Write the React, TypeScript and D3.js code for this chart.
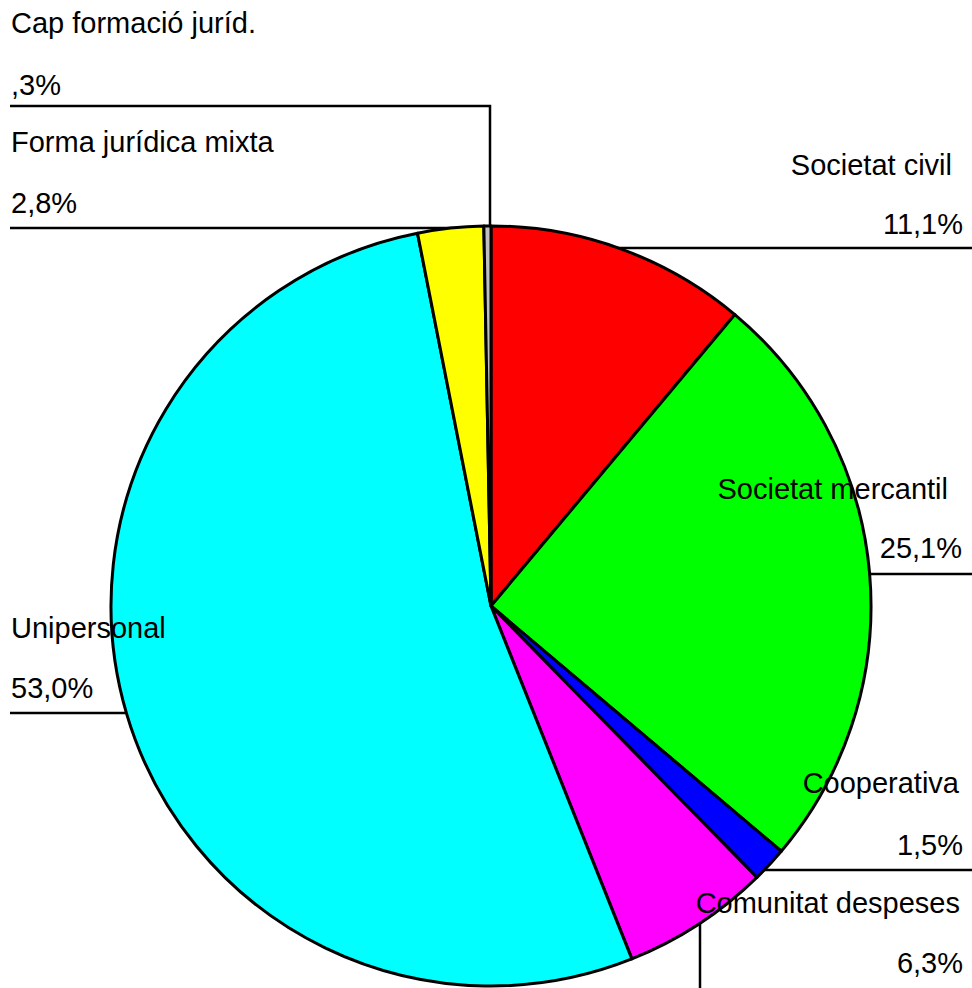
import React from "react";
import * as d3 from "d3";

const categories = [
  "Societat civil",
  "Societat mercantil",
  "Cooperativa",
  "Comunitat despeses",
  "Unipersonal",
  "Forma jurídica mixta",
  "Cap formació juríd.",
];
const values = [11.1, 25.1, 1.5, 6.3, 53.0, 2.8, 0.3];
const valueLabels = ["11,1%", "25,1%", "1,5%", "6,3%", "53,0%", "2,8%", ",3%"];
const colors = ["#FF0000", "#00FF00", "#0000FF", "#FF00FF", "#00FFFF", "#FFFF00", "#C0C0C0"];

// layout (label anchors and leader lines), in pixels
const labelLayout = [
  { anchor: "end", nameX: 952, nameY: 175, valX: 963, valY: 234, line: [[972, 248], [560, 248]] },
  { anchor: "end", nameX: 948, nameY: 499, valX: 962, valY: 558, line: [[972, 574], [800, 574]] },
  { anchor: "end", nameX: 959, nameY: 793, valX: 963, valY: 855, line: [[972, 870], [740, 870]] },
  { anchor: "end", nameX: 960, nameY: 913, valX: 963, valY: 973, line: [[700, 990], [700, 880]] },
  { anchor: "start", nameX: 11, nameY: 638, valX: 11, valY: 698, line: [[10, 713], [200, 713]] },
  { anchor: "start", nameX: 11, nameY: 152, valX: 11, valY: 213, line: [[10, 228], [490, 228]] },
  { anchor: "start", nameX: 11, nameY: 33, valX: 11, valY: 95, line: [[10, 106], [490, 106], [490, 240]] },
];

const W = 972;
const H = 988;
const cx = 491;
const cy = 606;
const R = 380;

export default function App() {
  const pie = d3.pie<number>().sort(null).value((d) => d)(values);
  const arc = d3.arc<d3.PieArcDatum<number>>().innerRadius(0).outerRadius(R);
  const line = d3.line();
  return (
    <svg
      width={W}
      height={H}
      style={{ position: "absolute", left: 0, top: 0, background: "#fff" }}
      fontFamily="'Liberation Sans', Arial, sans-serif"
      fontSize={29}
    >
      <rect x={0} y={0} width={W} height={H} fill="#fff" />
      {labelLayout.map((l, i) => (
        <path key={"l" + i} d={line(l.line as [number, number][]) || ""} fill="none" stroke="#000" strokeWidth={2.5} />
      ))}
      <g transform={`translate(${cx},${cy})`}>
        {pie.map((p, i) => (
          <path key={i} d={arc(p) || ""} fill={colors[i]} stroke="#000" strokeWidth={3} strokeLinejoin="round" />
        ))}
      </g>
      {labelLayout.map((l, i) => (
        <g key={"t" + i} fill="#000">
          <text x={l.nameX} y={l.nameY} textAnchor={l.anchor}>{categories[i]}</text>
          <text x={l.valX} y={l.valY} textAnchor={l.anchor}>{valueLabels[i]}</text>
        </g>
      ))}
    </svg>
  );
}
